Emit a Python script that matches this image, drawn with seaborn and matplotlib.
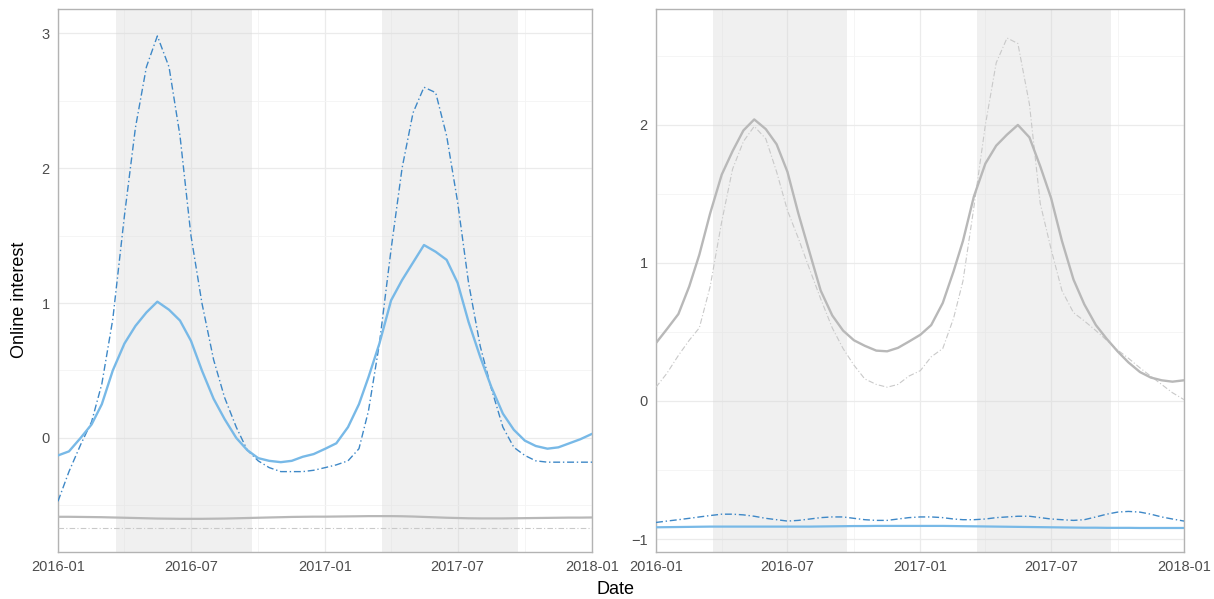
import numpy as np
import pandas as pd
import matplotlib
matplotlib.use("Agg")
import matplotlib.pyplot as plt
import matplotlib.dates as mdates
import seaborn as sns

# ---- data (semi-monthly samples) ----
month_starts = pd.date_range("2016-01-01", "2018-01-01", freq="MS")
mid_months = month_starts[:-1] + pd.Timedelta(days=15)
dates = pd.DatetimeIndex(sorted(list(month_starts) + list(mid_months)))

left_blue_solid = [
    -0.13, -0.10, 0.00, 0.10, 0.25, 0.50, 0.70, 0.83, 0.93, 1.01, 0.95, 0.87,
    0.72, 0.50, 0.29, 0.14, 0.00, -0.09, -0.15, -0.17, -0.18, -0.17, -0.14, -0.12,
    -0.08, -0.04, 0.08, 0.25, 0.45, 0.70, 1.02, 1.17, 1.30, 1.43, 1.38, 1.32,
    1.15, 0.86, 0.60, 0.38, 0.18, 0.06, -0.02, -0.06, -0.08, -0.07, -0.04, -0.01,
    0.03]
left_blue_dash = [
    -0.47, -0.25, -0.05, 0.12, 0.40, 0.88, 1.65, 2.30, 2.75, 2.98, 2.75, 2.24,
    1.50, 1.00, 0.58, 0.30, 0.08, -0.09, -0.17, -0.22, -0.25, -0.25, -0.25, -0.24,
    -0.22, -0.20, -0.17, -0.08, 0.20, 0.70, 1.40, 2.00, 2.41, 2.60, 2.56, 2.24,
    1.75, 1.15, 0.68, 0.37, 0.08, -0.07, -0.13, -0.17, -0.18, -0.18, -0.18, -0.18,
    -0.18]
left_grey_solid = [
    -0.585, -0.585, -0.586, -0.587, -0.588, -0.590, -0.592, -0.594, -0.596, -0.598, -0.599, -0.600,
    -0.600, -0.600, -0.599, -0.598, -0.596, -0.594, -0.592, -0.590, -0.588, -0.586, -0.585, -0.584,
    -0.584, -0.583, -0.582, -0.581, -0.580, -0.580, -0.580, -0.581, -0.583, -0.586, -0.589, -0.592,
    -0.594, -0.596, -0.597, -0.597, -0.597, -0.596, -0.595, -0.594, -0.593, -0.592, -0.591, -0.591,
    -0.590]
left_grey_dash = [-0.665] * 49

right_grey_solid = [
    0.42, 0.52, 0.63, 0.83, 1.06, 1.36, 1.64, 1.81, 1.96, 2.04, 1.97, 1.86,
    1.66, 1.36, 1.07, 0.80, 0.62, 0.51, 0.44, 0.40, 0.365, 0.36, 0.385, 0.43,
    0.48, 0.55, 0.71, 0.94, 1.16, 1.48, 1.72, 1.85, 1.93, 2.00, 1.91, 1.70,
    1.47, 1.16, 0.88, 0.70, 0.55, 0.45, 0.36, 0.28, 0.21, 0.17, 0.15, 0.14,
    0.15]
right_grey_dash = [
    0.10, 0.20, 0.33, 0.44, 0.53, 0.83, 1.30, 1.68, 1.88, 1.99, 1.90, 1.66,
    1.38, 1.18, 0.95, 0.74, 0.53, 0.38, 0.26, 0.16, 0.12, 0.10, 0.12, 0.18,
    0.22, 0.32, 0.38, 0.60, 0.87, 1.40, 2.00, 2.45, 2.63, 2.59, 2.15, 1.43,
    1.10, 0.80, 0.64, 0.58, 0.51, 0.44, 0.37, 0.31, 0.24, 0.18, 0.12, 0.06,
    0.01]
right_blue_solid = [
    -0.915, -0.914, -0.913, -0.912, -0.911, -0.910, -0.910, -0.910, -0.910, -0.910, -0.910, -0.910,
    -0.910, -0.910, -0.910, -0.909, -0.908, -0.907, -0.906, -0.906, -0.905, -0.905, -0.905, -0.905,
    -0.905, -0.905, -0.905, -0.906, -0.907, -0.908, -0.909, -0.910, -0.911, -0.912, -0.913, -0.914,
    -0.915, -0.916, -0.917, -0.918, -0.918, -0.919, -0.919, -0.919, -0.920, -0.920, -0.920, -0.920,
    -0.920]
right_blue_dash = [
    -0.88, -0.87, -0.86, -0.85, -0.84, -0.83, -0.82, -0.82, -0.825, -0.835, -0.85, -0.86,
    -0.87, -0.865, -0.855, -0.845, -0.84, -0.84, -0.85, -0.86, -0.865, -0.865, -0.855, -0.845,
    -0.84, -0.84, -0.845, -0.855, -0.86, -0.86, -0.855, -0.845, -0.84, -0.835, -0.835, -0.845,
    -0.855, -0.86, -0.865, -0.86, -0.84, -0.82, -0.805, -0.80, -0.805, -0.82, -0.84, -0.855,
    -0.87]

season_starts = ["2016-03-20", "2017-03-20"]
season_ends = ["2016-09-22", "2017-09-22"]

# ---- style ----
sns.set_theme(style="whitegrid")
plt.rcParams["font.family"] = ["Liberation Sans", "DejaVu Sans"]

BLUE = "#78b9e7"
BLUE_D = "#3e88c7"
GREY = "#b8b8b8"
GREY_L = "#c9c9c9"
DASHDOT = (0, (5, 2, 1, 2))

fig = plt.figure(figsize=(12.14, 5.99), dpi=100)
axL = fig.add_axes([58 / 1214, 47 / 599, 534 / 1214, 543 / 599])
axR = fig.add_axes([656 / 1214, 47 / 599, 528 / 1214, 543 / 599])


def draw(ax, series):
    for s, e in zip(season_starts, season_ends):
        ax.axvspan(pd.Timestamp(s), pd.Timestamp(e), color="#d6d6d6", alpha=0.35,
                   lw=0, zorder=1)
    for vals, col, lw, ls in series:
        sns.lineplot(x=dates, y=vals, ax=ax, color=col, lw=lw, linestyle=ls,
                     zorder=3)


draw(axL, [
    (left_grey_dash, GREY_L, 0.8, DASHDOT),
    (left_grey_solid, GREY, 1.6, "-"),
    (left_blue_dash, BLUE_D, 1.0, DASHDOT),
    (left_blue_solid, BLUE, 1.7, "-"),
])
draw(axR, [
    (right_blue_dash, BLUE_D, 1.0, DASHDOT),
    (right_blue_solid, BLUE, 1.6, "-"),
    (right_grey_dash, GREY_L, 0.8, DASHDOT),
    (right_grey_solid, GREY, 1.7, "-"),
])

axL.set_ylim(-0.846, 3.18)
axL.set_yticks([0, 1, 2, 3])
axL.set_yticks([-0.5, 0.5, 1.5, 2.5], minor=True)
axR.set_ylim(-1.094, 2.84)
axR.set_yticks([-1, 0, 1, 2])
axR.set_yticks([-0.5, 0.5, 1.5, 2.5], minor=True)

for ax in (axL, axR):
    ax.set_xlim(pd.Timestamp("2016-01-01"), pd.Timestamp("2018-01-01"))
    ax.xaxis.set_major_locator(mdates.MonthLocator(bymonth=[1, 7]))
    ax.xaxis.set_minor_locator(mdates.MonthLocator(bymonth=[4, 10]))
    ax.xaxis.set_major_formatter(mdates.DateFormatter("%Y-%m"))
    ax.set_facecolor("white")
    ax.grid(True, which="major", color="#ebebeb", lw=0.9, zorder=0)
    ax.grid(True, which="minor", color="#f4f4f4", lw=0.6, zorder=0)
    ax.set_axisbelow(True)
    for sp in ax.spines.values():
        sp.set_color("#b3b3b3")
        sp.set_linewidth(1.0)
    ax.tick_params(axis="both", which="major", length=3, width=0.8,
                   color="#b3b3b3", labelsize=10.5, labelcolor="#4d4d4d", pad=3)
    ax.tick_params(axis="both", which="minor", length=0)
    ax.set_xlabel("")
    ax.set_ylabel("")

fig.text(20 / 1214, 0.5, "Online interest", rotation=90, ha="center",
         va="center", fontsize=13, color="black")
fig.text(615 / 1214, 1 - 590 / 599, "Date", ha="center", va="center",
         fontsize=13, color="black")

fig.savefig("out.png", dpi=100, facecolor="white")
